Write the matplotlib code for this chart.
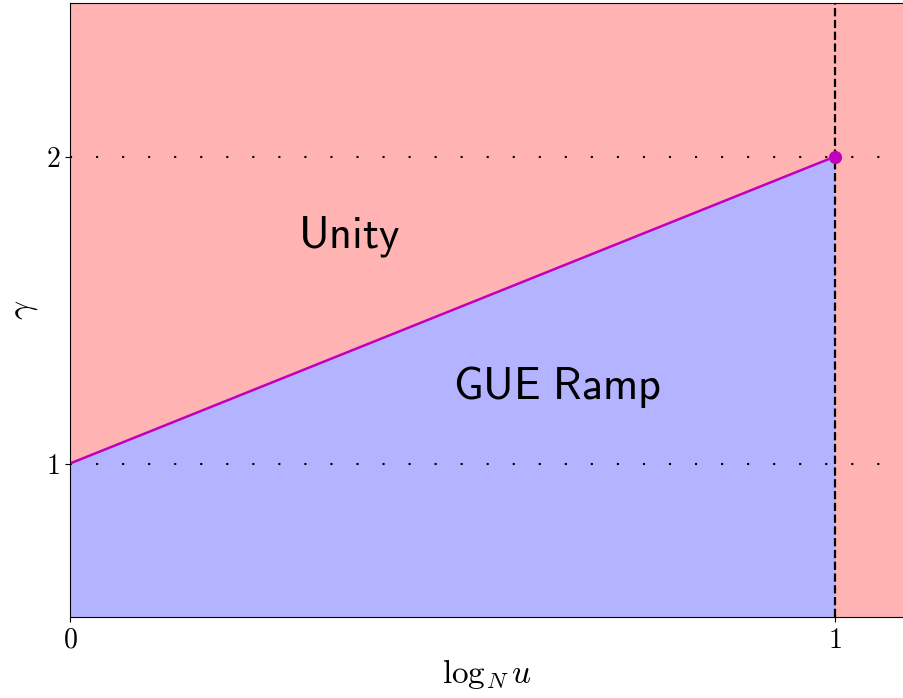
import numpy as np
import matplotlib
matplotlib.use("Agg")
import matplotlib.pyplot as plt

plt.rcParams['mathtext.fontset'] = 'cm'
plt.rcParams['font.family'] = 'serif'
plt.rcParams['font.serif'] = ['DejaVu Serif']

# fase: borde entre rampa GUE y unidad
x_borde = [0.0, 1.0]
gamma_borde = [1.0, 2.0]
gamma_ref = [1.0, 2.0]       # lineas punteadas horizontales
x_corte = 1.0                # linea discontinua vertical
xticks = [0, 1]
yticks = [1, 2]
etiquetas = [(0.365, 1.74, "Unity"), (0.637, 1.248, "GUE\\ Ramp")]

rojo = (1.0, 0.70, 0.70)
azul = (0.70, 0.70, 1.0)

fig = plt.figure(figsize=(9.04, 6.98), dpi=100)
ax = fig.add_axes([0.0774, 0.116, 1 - 0.0774, 0.8797])
ax.set_facecolor(rojo)
ax.set_xlim(0, 1.09)
ax.set_ylim(0.5, 2.5)

ax.fill_between(x_borde, [0.5, 0.5], gamma_borde, color=azul, lw=0)
for g in gamma_ref:
    ax.axhline(g, color='k', lw=1.5, ls=(0, (1, 11.5)))
ax.axvline(x_corte, color='k', lw=1.6, ls='--')
ax.plot(x_borde, gamma_borde, color='m', lw=1.8)
ax.plot([x_borde[-1]], [gamma_borde[-1]], 'o', color='m', ms=8.5)

for x, y, t in etiquetas:
    ax.text(x, y, r"$\mathsf{%s}$" % t, fontsize=32, ha='center', va='center')

ax.set_xticks(xticks)
ax.set_yticks(yticks)
ax.set_xticklabels([r"$%d$" % v for v in xticks])
ax.set_yticklabels([r"$%d$" % v for v in yticks])
ax.tick_params(labelsize=20)
ax.set_xlabel(r"$\log_N u$", fontsize=24, labelpad=2)
ax.set_ylabel(r"$\gamma$", fontsize=24)
ax.spines['right'].set_visible(False)

fig.savefig("out.png", dpi=100)
